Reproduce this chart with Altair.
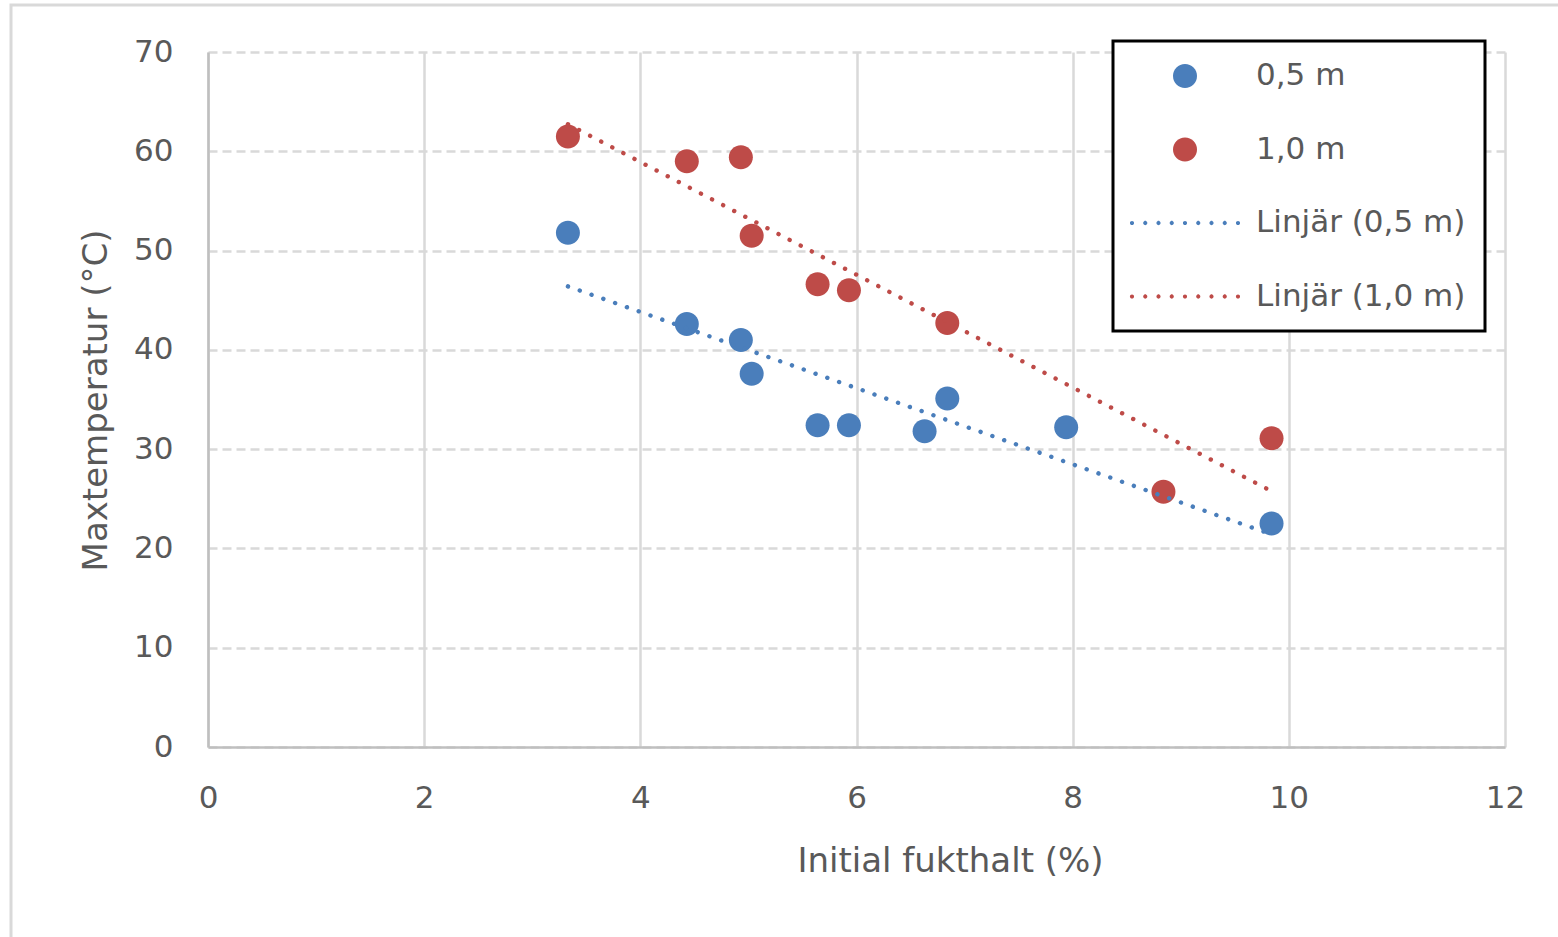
import altair as alt
import pandas as pd

# Measured maximum temperature vs. initial moisture content, two depths
serie_05_x = [3.33, 4.43, 4.93, 5.03, 5.64, 5.93, 6.63, 6.84, 7.94, 9.84]
serie_05_y = [51.8, 42.6, 41.0, 37.6, 32.4, 32.4, 31.8, 35.1, 32.2, 22.5]
serie_10_x = [3.33, 4.43, 4.93, 5.03, 5.64, 5.93, 6.84, 8.84, 9.84]
serie_10_y = [61.5, 59.0, 59.4, 51.5, 46.6, 46.0, 42.7, 25.7, 31.1]

series_names = ["0,5 m", "1,0 m"]
trend_names = ["Linjär (0,5 m)", "Linjär (1,0 m)"]
series_colors = ["#4a7ebb", "#be4b48"]
x_ticks = [0, 2, 4, 6, 8, 10, 12]
y_ticks = [0, 10, 20, 30, 40, 50, 60, 70]

FONT = "DejaVu Sans"
TEXT_COLOR = "#595959"
LABEL_SIZE = 31
TITLE_SIZE = 34

df = pd.DataFrame({
    "serie": [series_names[0]] * len(serie_05_x) + [series_names[1]] * len(serie_10_x),
    "fukthalt": serie_05_x + serie_10_x,
    "maxtemp": serie_05_y + serie_10_y,
})

# Symbol paths in Vega's unit space: one unit = sqrt(size)/2 pixels.
SYMBOL_SIZE = 32 ** 2
UNIT = 16.0


def circle_path(cx, r):
    return (f"M{cx - r:.4f},0A{r:.4f},{r:.4f},0,1,0,{cx + r:.4f},0"
            f"A{r:.4f},{r:.4f},0,1,0,{cx - r:.4f},0Z")


# marker: 24 px disc; trend-line key: 9 dots over ~106 px
marker_path = circle_path(0.0, 12 / UNIT)
dot_path = "".join(
    circle_path((-53 + k * 13.25) / UNIT, 2.1 / UNIT) for k in range(9)
)

legend_domain = series_names + trend_names
legend_spec = dict(
    orient="none",
    legendX=905,
    legendY=-11,
    direction="vertical",
    title=None,
    padding=19,
    fillColor="white",
    strokeColor="black",
    labelFont=FONT,
    labelFontSize=LABEL_SIZE,
    labelColor=TEXT_COLOR,
    labelLimit=500,
    symbolOffset=37,
    labelOffset=55,
    rowPadding=42.5,
    symbolSize=SYMBOL_SIZE,
    symbolStrokeWidth=0,
    symbolOpacity=1,
)

x_enc = alt.X(
    "fukthalt:Q",
    title="Initial fukthalt (%)",
    scale=alt.Scale(domain=[0, 12], nice=False, zero=False),
    axis=alt.Axis(
        values=x_ticks, grid=True, gridColor="#d9d9d9", gridWidth=2.5,
        ticks=False, domainColor="#bfbfbf", domainWidth=2.5, labelFlush=False,
        labelFont=FONT, labelFontSize=LABEL_SIZE, labelColor=TEXT_COLOR, labelPadding=36,
        titleFont=FONT, titleFontSize=TITLE_SIZE, titleFontWeight="normal",
        titleColor=TEXT_COLOR,
        titleX=742, titleY=114, titleAlign="center", titleBaseline="middle",
    ),
)
y_enc = alt.Y(
    "maxtemp:Q",
    title="Maxtemperatur (°C)",
    scale=alt.Scale(domain=[0, 70], nice=False),
    axis=alt.Axis(
        values=y_ticks, grid=True, gridColor="#d9d9d9", gridWidth=2.5, gridDash=[9, 5],
        ticks=False, domainColor="#bfbfbf", domainWidth=2.5, labelFlush=False,
        labelFont=FONT, labelFontSize=LABEL_SIZE, labelColor=TEXT_COLOR, labelPadding=35,
        titleFont=FONT, titleFontSize=TITLE_SIZE, titleFontWeight="normal",
        titleColor=TEXT_COLOR,
        titleAngle=270, titleX=-112, titleY=348, titleAlign="center",
        titleBaseline="middle",
    ),
)

# Light frame around the whole chart area
frame = alt.Chart(pd.DataFrame({"f": [0]})).mark_rect(
    fill=None, stroke="#d9d9d9", strokeWidth=3
).encode(
    x=alt.value(-197), x2=alt.value(1400), y=alt.value(-47), y2=alt.value(905)
)

points = alt.Chart(df).mark_point(
    filled=True, opacity=1, strokeWidth=0, size=SYMBOL_SIZE
).encode(
    x=x_enc,
    y=y_enc,
    color=alt.Color(
        "serie:N",
        scale=alt.Scale(domain=legend_domain, range=series_colors + series_colors),
        legend=alt.Legend(**legend_spec),
    ),
    shape=alt.Shape(
        "serie:N",
        scale=alt.Scale(domain=legend_domain,
                        range=[marker_path, marker_path, dot_path, dot_path]),
        legend=alt.Legend(**legend_spec),
    ),
)

# Linear trend lines, one per depth
trend = alt.Chart(df).transform_regression(
    "fukthalt", "maxtemp", groupby=["serie"]
).transform_calculate(
    trend='"Linjär (" + datum.serie + ")"'
).mark_line(
    strokeDash=[0.1, 12.4], strokeCap="round", strokeWidth=4.4
).encode(
    x=x_enc,
    y=y_enc,
    stroke=alt.Stroke(
        "trend:N",
        scale=alt.Scale(domain=trend_names, range=series_colors),
        legend=None,
    ),
)

chart = alt.layer(frame, points, trend).properties(
    width=1297,
    height=695,
    padding={"left": 208, "top": 52, "right": 53, "bottom": 190},
    autosize=alt.AutoSizeParams(type="none"),
    background="white",
).configure_view(
    stroke=None
).configure_legend(
    strokeWidth=3
)

chart.save("out.html", embed_options={"renderer": "svg", "actions": False})
